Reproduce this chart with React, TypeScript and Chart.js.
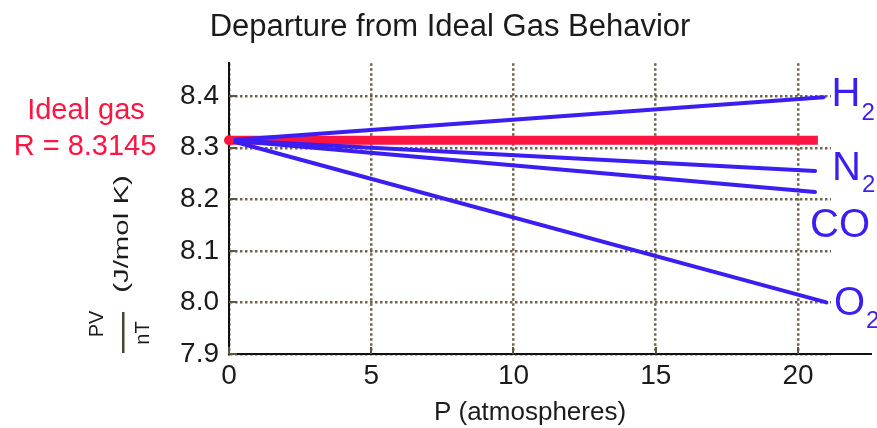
import React, { useEffect, useRef } from 'react';
import { Chart, registerables } from 'chart.js';

Chart.register(...registerables);

// ---------- data ----------
const TITLE = 'Departure from Ideal Gas Behavior';
const X_TITLE = 'P (atmospheres)';
const Y_TITLE_FRACTION_TOP = 'PV';
const Y_TITLE_FRACTION_BOTTOM = 'nT';
const Y_TITLE_UNITS = '(J/mol K)';

const X_TICKS = [0, 5, 10, 15, 20];
const Y_TICKS = [7.9, 8.0, 8.1, 8.2, 8.3, 8.4];
const X_MIN = 0;
const X_MAX = 21.16;
const X_AXIS_END = 22.6;
const Y_MIN = 7.9;
const Y_MAX = 8.464;

const IDEAL_R = 8.3145;
const IDEAL_LABEL = 'Ideal gas';
const IDEAL_P = [0, 20.7];
const IDEAL_V = [8.3145, 8.3145];

const GAS_NAMES = ['H', 'N', 'CO', 'O'];
const GAS_SUBSCRIPTS = ['2', '2', '', '2'];
const H2_P = [0, 20.9];
const H2_V = [8.3145, 8.398];
const N2_P = [0, 20.6];
const N2_V = [8.3145, 8.255];
const CO_P = [0, 20.6];
const CO_V = [8.3145, 8.214];
const O2_P = [0, 21.0];
const O2_V = [8.3145, 8.0];

const GAS_P = [H2_P, N2_P, CO_P, O2_P];
const GAS_V = [H2_V, N2_V, CO_V, O2_V];

// ---------- styles ----------
const FONT = "'Liberation Sans', Arial, Helvetica, sans-serif";
const RED = '#ff1442';
const BLUE = '#3a1ef2';
const TEXT = '#1b1b1b';
const GRID = 'rgba(96, 84, 56, 0.9)';
const TICK = '#5e5440';
// label offsets (px) from each gas line end
const LABEL_OFFSETS = [
  { dx: 8, dy: 9, sub: 14 },
  { dx: 17, dy: 9, sub: 12 },
  { dx: -5, dy: 45, sub: 12 },
  { dx: 7.5, dy: 13, sub: 13 },
];

const pts = (xs: number[], ys: number[]) => xs.map((x, i) => ({ x, y: ys[i] }));

const overlayPlugin = {
  id: 'overlay',
  beforeDatasetsDraw(chart: any) {
    const { ctx, chartArea, scales } = chart;
    const x = scales.x;
    const y = scales.y;
    ctx.save();
    ctx.strokeStyle = TICK;
    ctx.lineWidth = 2;
    for (const v of Y_TICKS) {
      const py = Math.round(y.getPixelForValue(v));
      ctx.beginPath();
      ctx.moveTo(chartArea.left, py);
      ctx.lineTo(chartArea.left + 8, py);
      ctx.stroke();
    }
    for (const v of X_TICKS) {
      const px = Math.round(x.getPixelForValue(v));
      ctx.beginPath();
      ctx.moveTo(px, chartArea.bottom);
      ctx.lineTo(px, chartArea.bottom - 7);
      ctx.stroke();
    }
    // axis line extension past the plotted range
    ctx.strokeStyle = '#111';
    ctx.lineWidth = 2;
    ctx.beginPath();
    ctx.moveTo(chartArea.right - 1, chartArea.bottom);
    ctx.lineTo(x.getPixelForValue(X_AXIS_END), chartArea.bottom);
    ctx.stroke();
    ctx.restore();
  },
  afterDraw(chart: any) {
    const { ctx, chartArea, scales } = chart;
    const x = scales.x;
    const y = scales.y;
    ctx.save();

    // gas labels
    ctx.fillStyle = BLUE;
    ctx.textBaseline = 'alphabetic';
    ctx.textAlign = 'left';
    GAS_NAMES.forEach((name, i) => {
      const ps = GAS_P[i];
      const vs = GAS_V[i];
      const ex = x.getPixelForValue(ps[ps.length - 1]);
      const ey = y.getPixelForValue(vs[vs.length - 1]);
      const o = LABEL_OFFSETS[i];
      ctx.font = `40px ${FONT}`;
      const tx = ex + o.dx;
      const ty = ey + o.dy;
      ctx.fillText(name, tx, ty);
      const w = ctx.measureText(name).width;
      if (GAS_SUBSCRIPTS[i]) {
        ctx.font = `24px ${FONT}`;
        ctx.fillText(GAS_SUBSCRIPTS[i], tx + w + 1, ty + o.sub);
      }
    });

    // ideal gas annotation
    const iy = y.getPixelForValue(IDEAL_R);
    const cx = chartArea.left - 144;
    ctx.fillStyle = RED;
    ctx.textAlign = 'center';
    ctx.font = `29px ${FONT}`;
    ctx.fillText(IDEAL_LABEL, cx + 1, iy - 21.5);
    ctx.fillText(`R = ${IDEAL_R}`, cx, iy + 14.5);

    // y axis title
    ctx.fillStyle = TEXT;
    const L = chartArea.left;
    ctx.save();
    ctx.translate(L - 101, 234);
    ctx.rotate(-Math.PI / 2);
    ctx.scale(1.4, 1);
    ctx.font = `21px ${FONT}`;
    ctx.textAlign = 'center';
    ctx.fillText(Y_TITLE_UNITS, 0, 0);
    ctx.restore();

    ctx.save();
    ctx.translate(L - 126, 324);
    ctx.rotate(-Math.PI / 2);
    ctx.font = `20px ${FONT}`;
    ctx.textAlign = 'center';
    ctx.fillText(Y_TITLE_FRACTION_TOP, 0, 0);
    ctx.restore();

    ctx.save();
    ctx.translate(L - 80, 333);
    ctx.rotate(-Math.PI / 2);
    ctx.font = `20px ${FONT}`;
    ctx.textAlign = 'center';
    ctx.fillText(Y_TITLE_FRACTION_BOTTOM, 0, 0);
    ctx.restore();

    ctx.fillStyle = '#4a4232';
    ctx.fillRect(L - 107, 312, 2.5, 41);

    ctx.restore();
  },
};

export default function App() {
  const ref = useRef<HTMLCanvasElement | null>(null);

  useEffect(() => {
    document.body.style.margin = '0';
    const canvas = ref.current;
    if (!canvas) return;

    const gasDatasets = GAS_NAMES.map((name, i) => ({
      label: name + GAS_SUBSCRIPTS[i],
      data: pts(GAS_P[i], GAS_V[i]),
      borderColor: BLUE,
      backgroundColor: BLUE,
      borderWidth: 4,
      borderCapStyle: 'round' as const,
      pointRadius: 0,
      clip: false as any,
      order: 1,
    }));

    const chart = new Chart(canvas, {
      type: 'line',
      data: {
        datasets: [
          {
            label: 'Ideal point',
            data: [{ x: IDEAL_P[0], y: IDEAL_V[0] }],
            showLine: false,
            pointRadius: 5,
            pointBackgroundColor: RED,
            pointBorderColor: RED,
            pointBorderWidth: 0,
            clip: false as any,
            order: 0,
          },
          ...gasDatasets,
          {
            label: 'Ideal gas',
            data: pts(IDEAL_P, IDEAL_V),
            borderColor: RED,
            backgroundColor: RED,
            borderWidth: 9,
            pointRadius: 0,
            order: 2,
          },
        ],
      },
      options: {
        animation: false,
        responsive: false,
        devicePixelRatio: 1,
        layout: { padding: { left: 69, right: 46, top: 0, bottom: 0 } },
        font: { family: FONT },
        plugins: {
          legend: { display: false },
          tooltip: { enabled: false },
          title: {
            display: true,
            text: TITLE,
            color: TEXT,
            font: { size: 31, weight: 'normal', family: FONT },
            padding: { top: 9, bottom: 17 },
          },
        },
        scales: {
          x: {
            type: 'linear',
            min: X_MIN,
            max: X_MAX,
            afterBuildTicks: (s: any) => {
              s.ticks = X_TICKS.map((v) => ({ value: v }));
            },
            afterFit: (s: any) => {
              s.height = 74;
            },
            ticks: {
              color: TEXT,
              font: { size: 28, family: FONT },
              padding: 5,
              maxRotation: 0,
              autoSkip: false,
              callback: (v: any) => String(v),
            },
            grid: { color: GRID, lineWidth: 2.5, drawTicks: false },
            border: { display: true, color: '#111', width: 2, dash: [2.5, 2.5] },
            title: {
              display: true,
              text: X_TITLE,
              color: TEXT,
              font: { size: 26, family: FONT },
              padding: { top: 0, bottom: 0 },
            },
          },
          y: {
            type: 'linear',
            min: Y_MIN,
            max: Y_MAX,
            afterBuildTicks: (s: any) => {
              s.ticks = Y_TICKS.map((v) => ({ value: v }));
            },
            afterFit: (s: any) => {
              s.width = 160;
            },
            ticks: {
              color: TEXT,
              font: { size: 28, family: FONT },
              padding: 10,
              autoSkip: false,
              callback: (v: any) => Number(v).toFixed(1),
            },
            grid: { color: GRID, lineWidth: 2.5, drawTicks: false },
            border: { display: true, color: '#111', width: 2, dash: [2.5, 2.5] },
          },
        },
      } as any,
      plugins: [overlayPlugin],
    });

    return () => chart.destroy();
  }, []);

  return (
    <div style={{ position: 'absolute', left: 0, top: 0, width: 877, height: 428, background: '#fff' }}>
      <canvas ref={ref} width={877} height={428} style={{ display: 'block', width: 877, height: 428 }} />
    </div>
  );
}
